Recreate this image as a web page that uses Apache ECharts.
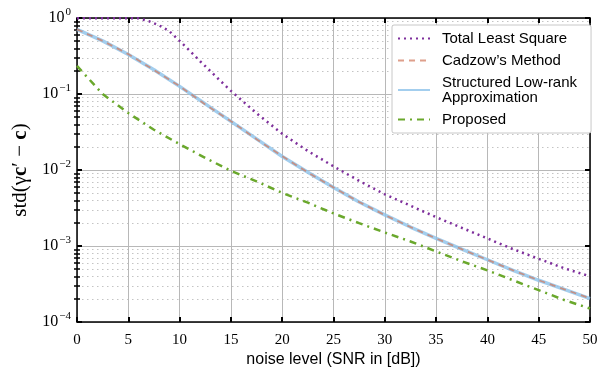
<!DOCTYPE html>
<html>
<head>
<meta charset="utf-8">
<script src="https://cdn.jsdelivr.net/npm/echarts@6/dist/echarts.min.js"></script>
<style>
  html, body { margin: 0; padding: 0; background: #fff; }
  #chart { width: 605px; height: 373px; }
</style>
</head>
<body>
<div id="chart"></div>
<script>
// SNR values (dB) shared by Cadzow / SLRA / Proposed
const snr = [0, 2.5, 5, 7.5, 10, 12.5, 15, 17.5, 20, 22.5, 25, 27.5, 30, 32.5, 35, 37.5, 40, 42.5, 45, 47.5, 50];

// total least square has a knee near 7 dB, read at finer steps there
const tlsSnr = [0, 2.5, 5, 6, 7, 8, 9, 10, 11, 12, 13, 14, 15, 17.5, 20, 22.5, 25, 27.5, 30, 32.5, 35, 37.5, 40, 42.5, 45, 47.5, 50];
const tlsStd = [0.995, 0.995, 0.995, 0.99, 0.91, 0.8, 0.67, 0.5, 0.37, 0.27, 0.2, 0.148, 0.11, 0.056, 0.03, 0.0178, 0.0112, 0.0072, 0.0048, 0.0034, 0.0024, 0.00174, 0.00126, 0.00091, 0.00068, 0.00051, 0.0004];

const cadzowStd = [0.71, 0.5, 0.335, 0.207, 0.127, 0.073, 0.044, 0.0255, 0.0152, 0.0093, 0.0059, 0.0038, 0.00256, 0.00178, 0.00126, 0.00091, 0.00066, 0.00048, 0.000355, 0.00027, 0.000205];
const slraStd = [0.71, 0.5, 0.331, 0.209, 0.126, 0.0741, 0.0437, 0.0257, 0.0151, 0.00933, 0.00589, 0.0038, 0.00257, 0.00178, 0.00126, 0.000912, 0.000661, 0.000479, 0.000355, 0.000269, 0.000204];
const proposedStd = [0.234, 0.1, 0.0562, 0.0339, 0.0219, 0.01445, 0.00977, 0.00708, 0.00501, 0.00372, 0.00269, 0.002, 0.00151, 0.00115, 0.000851, 0.000631, 0.000479, 0.000355, 0.000263, 0.000195, 0.000151];

const seriesNames = ['Total Least Square', "Cadzow’s Method", 'Structured Low-rank Approximation', 'Proposed'];

// tick positions
const yMajor = [1e-4, 1e-3, 1e-2, 1e-1, 1];
const yMinor = [];
[1e-4, 1e-3, 1e-2, 1e-1].forEach(function (d) {
  for (let k = 2; k <= 9; k++) yMinor.push(+(k * d).toPrecision(3));
});

const serif = '"Liberation Serif", "DejaVu Serif", serif';
const sans = '"Liberation Sans", Arial, sans-serif';

function pairs(xs, ys) {
  return xs.map(function (x, i) { return [x, ys[i]]; });
}

const myChart = echarts.init(document.getElementById('chart'));

const yLabel = {
  fontFamily: serif,
  color: '#000',
  margin: 6,
  customValues: yMajor,
  formatter: function (v) {
    const e = Math.round(Math.log10(v));
    return '{b|10}{s|' + (e === 0 ? '0' : '−' + (-e)) + '}';
  },
  rich: {
    b: { fontSize: 16, fontFamily: serif, color: '#000' },
    s: { fontSize: 11, fontFamily: serif, color: '#000', padding: [0, 0, 11, 1] }
  }
};

myChart.setOption({
  backgroundColor: '#fff',
  animation: false,
  grid: { left: 77, right: 15, top: 18, bottom: 48 },
  legend: {
    orient: 'vertical',
    left: 392,
    top: 25,
    padding: [6, 14, 6, 5],
    itemGap: 7,
    itemWidth: 32,
    itemHeight: 12,
    backgroundColor: '#fff',
    borderColor: '#c8c8c8',
    borderWidth: 1,
    borderRadius: 2,
    itemStyle: { color: 'transparent', borderWidth: 0, opacity: 0 },
    data: seriesNames,
    formatter: function (name) {
      return name === 'Structured Low-rank Approximation' ? 'Structured Low-rank\nApproximation' : name;
    },
    textStyle: { fontFamily: sans, fontSize: 15, color: '#000', lineHeight: 15, padding: [0, 0, 0, 7] }
  },
  xAxis: [{
    type: 'value',
    min: 0,
    max: 50,
    interval: 5,
    name: 'noise level (SNR in [dB])',
    nameLocation: 'middle',
    nameGap: 25,
    nameTextStyle: { fontFamily: sans, fontSize: 16, color: '#000' },
    axisLine: { onZero: false, lineStyle: { color: '#000', width: 1.5 } },
    axisTick: { inside: true, length: 5, lineStyle: { color: '#000', width: 2 } },
    axisLabel: { fontFamily: serif, fontSize: 15, color: '#000', margin: 10 },
    splitLine: { show: true, lineStyle: { color: '#b8b8b8', width: 1 } }
  }, {
    type: 'value',
    position: 'top',
    min: 0,
    max: 50,
    interval: 5,
    axisLine: { onZero: false, lineStyle: { color: '#000', width: 1.5 } },
    axisTick: { inside: true, length: 5, lineStyle: { color: '#000', width: 2 } },
    axisLabel: { show: false },
    splitLine: { show: false }
  }],
  yAxis: [{
    type: 'log',
    logBase: 10,
    min: 1e-4,
    max: 1,
    position: 'left',
    name: 'std(γ{b|c}′ − {b|c})',
    nameLocation: 'middle',
    nameGap: 44,
    nameTextStyle: {
      fontFamily: serif, fontSize: 21, color: '#000',
      rich: { b: { fontFamily: serif, fontSize: 21, fontWeight: 'bold', color: '#000' } }
    },
    axisLine: { onZero: false, lineStyle: { color: '#000', width: 1.5 } },
    axisTick: { inside: true, length: 5, customValues: yMajor, lineStyle: { color: '#000', width: 2 } },
    axisLabel: yLabel,
    splitLine: { show: true, lineStyle: { color: '#b8b8b8', width: 1 } }
  }, {
    type: 'log',
    logBase: 10,
    min: 1e-4,
    max: 1,
    position: 'left',
    axisLine: { show: false },
    axisTick: { inside: true, length: 3, customValues: yMinor, lineStyle: { color: '#000', width: 1.5 } },
    axisLabel: { show: false },
    splitLine: { show: true, lineStyle: { color: '#c4c4c4', width: 1, type: [1.5, 3.5] } }
  }, {
    type: 'log',
    logBase: 10,
    min: 1e-4,
    max: 1,
    position: 'right',
    axisLine: { onZero: false, lineStyle: { color: '#000', width: 1.5 } },
    axisTick: { inside: true, length: 5, customValues: yMajor, lineStyle: { color: '#000', width: 2 } },
    axisLabel: { show: false },
    splitLine: { show: false }
  }, {
    type: 'log',
    logBase: 10,
    min: 1e-4,
    max: 1,
    position: 'right',
    axisLine: { show: false },
    axisTick: { inside: true, length: 3, customValues: yMinor, lineStyle: { color: '#000', width: 1.5 } },
    axisLabel: { show: false },
    splitLine: { show: false }
  }],
  series: [{
    name: seriesNames[0],
    type: 'line',
    symbol: 'none',
    z: 3,
    lineStyle: { color: '#7e2f9c', width: 2.5, type: [2, 4] },
    itemStyle: { color: '#7e2f9c' },
    data: pairs(tlsSnr, tlsStd)
  }, {
    name: seriesNames[2],
    type: 'line',
    symbol: 'none',
    z: 3,
    lineStyle: { color: '#8cc2ea', width: 3.5, opacity: 0.8 },
    itemStyle: { color: '#8cc2ea' },
    data: pairs(snr, slraStd)
  }, {
    name: seriesNames[1],
    type: 'line',
    symbol: 'none',
    z: 4,
    lineStyle: { color: '#d0765a', width: 1.8, type: [6, 5], opacity: 0.7 },
    itemStyle: { color: '#e8805e' },
    data: pairs(snr, cadzowStd)
  }, {
    name: seriesNames[3],
    type: 'line',
    symbol: 'none',
    z: 3,
    lineStyle: { color: '#6aa82c', width: 2.5, type: [7, 5, 2, 5] },
    itemStyle: { color: '#6aa82c' },
    data: pairs(snr, proposedStd)
  }]
});

window.addEventListener('resize', function () {
  myChart.resize();
});
</script>
</body>
</html>
